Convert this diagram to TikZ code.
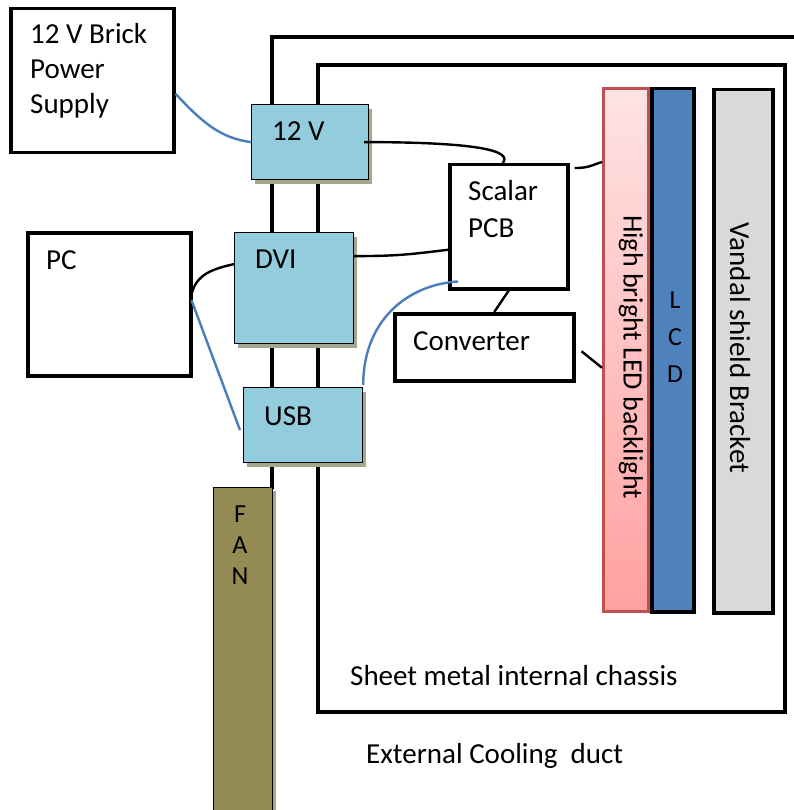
\documentclass[tikz,border=0pt]{standalone}
\usepackage{fontspec}
\setmainfont{Carlito}
\usetikzlibrary{shadows}
\definecolor{boxblue}{HTML}{93CDDD}
\definecolor{shadowcol}{HTML}{A3A78B}
\definecolor{fanol}{HTML}{948A54}
\definecolor{wireblue}{HTML}{4A7EBB}
\definecolor{ledborder}{HTML}{C0504D}
\definecolor{ledtop}{HTML}{FFE3E3}
\definecolor{ledbot}{HTML}{FFA1A1}
\definecolor{lcdblue}{HTML}{4F81BD}
\definecolor{vandalgray}{HTML}{D9D9D9}
\tikzset{
  frameline/.style={line width=3.2pt, line cap=rect},
  plainbox/.style={draw, line width=3.5pt, fill=white, anchor=north west, inner sep=0pt},
  bluebox/.style={draw, line width=1.2pt, fill=boxblue, anchor=north west, inner sep=0pt,
    drop shadow={shadow xshift=3pt, shadow yshift=-4pt, fill=shadowcol, opacity=1}},
  barbox/.style={draw, line width=3.5pt, anchor=north west, inner sep=0pt},
  lbl/.style={anchor=base west, inner sep=0pt, font=\fontsize{29}{35}\selectfont},
  smalllbl/.style={anchor=base, inner sep=0pt, font=\fontsize{26}{30}\selectfont},
  rotlbl/.style={anchor=center, inner sep=0pt, rotate=-90, font=\fontsize{28}{34}\selectfont},
  blackwire/.style={line width=2.4pt, black},
  bluewire/.style={line width=2.4pt, wireblue},
}
\begin{document}
\begin{tikzpicture}[x=1pt,y=-1pt]
\useasboundingbox (0,0) rectangle (793,810);
% external cooling duct outline and internal chassis
\draw[frameline] (272,487) -- (272,37) -- (800,37);
\draw[frameline] (318,65) rectangle (785,712);

% boxes
\node[plainbox, minimum width=163pt, minimum height=144pt] (brick) at (9,7) {};
\node[plainbox, minimum width=163pt, minimum height=143pt] (pc) at (26,231) {};
\node[bluebox, minimum width=117pt, minimum height=75pt] (v12) at (251,104) {};
\node[bluebox, minimum width=119pt, minimum height=111pt] (dvi) at (234,232) {};
\node[bluebox, minimum width=119pt, minimum height=75pt] (usb) at (243,387) {};
\node[plainbox, minimum width=118pt, minimum height=124pt] (scalar) at (448,163) {};
\node[plainbox, minimum width=179pt, minimum height=67pt] (conv) at (393,312) {};
\node[draw=ledborder, line width=2.6pt, top color=ledtop, bottom color=ledbot, anchor=north west,
      inner sep=0pt, minimum width=45pt, minimum height=523pt] (led) at (602,87) {};
\node[barbox, fill=lcdblue, minimum width=42pt, minimum height=523pt] (lcd) at (650,87) {};
\node[barbox, fill=vandalgray, minimum width=59pt, minimum height=523pt] (vandal) at (712,88) {};
\node[draw, line width=1.4pt, fill=fanol, anchor=north west, inner sep=0pt,
      minimum width=59pt, minimum height=340pt,
      drop shadow={shadow xshift=3pt, shadow yshift=-3pt, fill=shadowcol, opacity=1}] (fan) at (213,487) {};

% texts
\node[lbl] (brickA) at (30,44) {12 V Brick};
\node[lbl] (brickB) at (30,79) {Power};
\node[lbl] (brickC) at (30,114) {Supply};
\node[lbl] (pct) at (46,269) {PC};
\node[lbl] (v12t) at (272,141) {12 V};
\node[lbl] (dvit) at (255,268) {DVI};
\node[lbl] (usbt) at (264,425) {USB};
\node[lbl] (scalarA) at (468,201) {Scalar};
\node[lbl] (scalarB) at (468,237) {PCB};
\node[lbl] (convt) at (413,350) {Converter};
\node[lbl] (chassist) at (350,685) {Sheet metal internal chassis};
\node[lbl] (ductt) at (366,763) {External Cooling\ \ duct};
\node[rotlbl] (ledt) at (631,357) {High bright LED backlight};
\node[rotlbl, font=\fontsize{29}{34}\selectfont] (vandalt) at (740,348) {Vandal shield Bracket};
\node[smalllbl] (lcdL) at (675,308) {L};
\node[smalllbl] (lcdC) at (675,345) {C};
\node[smalllbl] (lcdD) at (675,382) {D};
\node[smalllbl] (fanF) at (240,522) {F};
\node[smalllbl] (fanA) at (240,553) {A};
\node[smalllbl] (fanN) at (240,584) {N};

% connectors
\draw[bluewire] ([yshift=-13pt]brick.east) .. controls +(28,30) and +(-30,-4) .. (v12.west);
\draw[blackwire] ([xshift=-5pt]v12.east) .. controls +(115,0) and +(10,-12) .. ([xshift=-6pt]scalar.north);
\draw[blackwire] ([shift={(5pt,-5pt)}]scalar.north east) .. controls +(15,0) and +(-10,3) .. ([yshift=-75pt]led.north west);
\draw[blackwire] ([yshift=32pt]dvi.east) .. controls +(40,0) and +(-40,5) .. ([yshift=-23pt]scalar.west);
\draw[blackwire] ([shift={(-1pt,10pt)}]pc.east) .. controls +(5,-20) and +(-22,5) .. ([yshift=24pt]dvi.west);
\draw[bluewire] ([shift={(-1pt,4pt)}]pc.east) -- ([shift={(-3pt,-5pt)}]usb.west);
\draw[bluewire] ([yshift=2pt]usb.north east) .. controls +(0,-65) and +(-50,3) .. ([shift={(10pt,9pt)}]scalar.south west);
\draw[blackwire] (scalar.south) -- ([xshift=10pt]conv.north);
\draw[blackwire] ([shift={(6pt,-4pt)}]conv.east) -- ([yshift=-18pt]led.west);
\end{tikzpicture}
\end{document}
